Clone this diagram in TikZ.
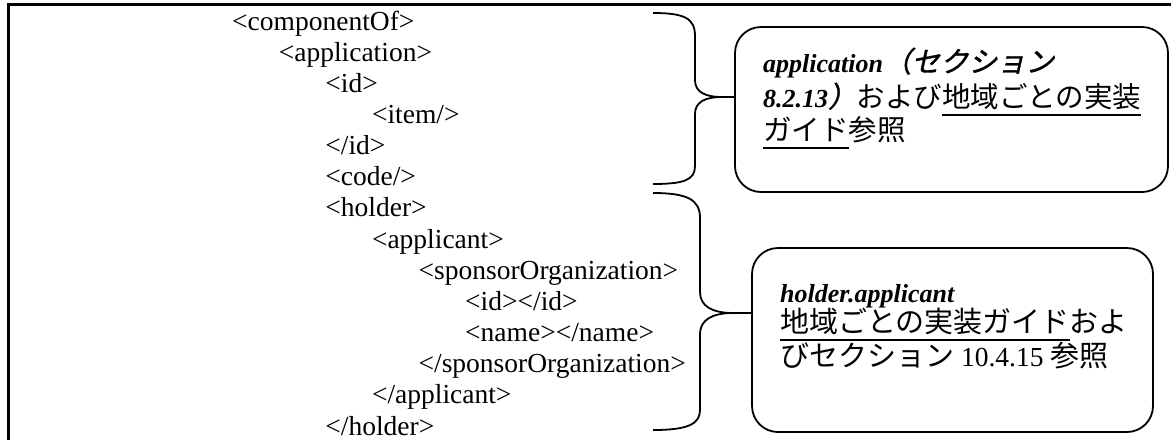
\documentclass[tikz,border=0pt]{standalone}
\usepackage{fontspec}
\setmainfont{Liberation Serif}
\newfontfamily\jp{Noto Sans CJK JP}
\newfontfamily\jpsl[FakeSlant=0.22,FakeBold=1.2]{Noto Sans CJK JP}
% underline drawn as a rule below the text box
\newcommand\uline[1]{\setbox0\hbox{#1}\rlap{\rule[-9pt]{\wd0}{1.8pt}}\box0}
\newcommand\xmlfont{\fontsize{27.5}{31}\selectfont}
\newcommand\notefont{\fontsize{26}{34}\selectfont}
\begin{document}
\begin{tikzpicture}[x=1pt,y=-1pt,
  xml/.style={anchor=base west, inner sep=0pt, font=\xmlfont},
  note/.style={draw, line width=1.8pt, rounded corners=26pt, inner sep=0pt},
  notetext/.style={anchor=base west, inner sep=0pt, font=\notefont},
  brace/.style={line width=1.8pt, line join=round},
  frame/.style={line width=2.8pt}]
\useasboundingbox (0,0) rectangle (1171,440);

% frame edges
\draw[frame] (8.7,440) -- (8.7,4.3) -- (1171,4.3);

% XML listing
\node[xml] (l1)  at (232.0, 30.0)  {<componentOf>};
\node[xml] (l2)  at (278.6, 61.2)  {<application>};
\node[xml] (l3)  at (325.2, 92.3)  {<id>};
\node[xml] (l4)  at (371.8,123.5)  {<item/>};
\node[xml] (l5)  at (325.2,154.6)  {</id>};
\node[xml] (l6)  at (325.2,185.8)  {<code/>};
\node[xml] (l7)  at (325.2,216.9)  {<holder>};
\node[xml] (l8)  at (371.8,248.1)  {<applicant>};
\node[xml] (l9)  at (418.4,279.2)  {<sponsorOrganization>};
\node[xml] (l10) at (465.0,310.4)  {<id></id>};
\node[xml] (l11) at (465.0,341.5)  {<name></name>};
\node[xml] (l12) at (418.4,372.7)  {</sponsorOrganization>};
\node[xml] (l13) at (371.8,403.8)  {</applicant>};
\node[xml] (l14) at (325.2,435.0)  {</holder>};

% note boxes
\node[note, minimum width=433pt, minimum height=165pt] (b1) at (951.5,109.5) {};
\node[note, minimum width=401pt, minimum height=184pt] (b2) at (952.5,340) {};

% note texts
\node[notetext] (a1) at (763,72)  {{\bfseries\itshape application}{\fontsize{28.5}{34}\jpsl （セクション}};
\node[notetext] (a2) at (763,107) {{\bfseries\itshape 8.2.13}{\fontsize{28.5}{34}\jpsl ）}{\fontsize{28.5}{34}\jp および\uline{地域ごとの実装}}};
\node[notetext] (a3) at (763,140) {{\fontsize{28.5}{34}\jp \uline{ガイド}参照}};

\node[notetext] (h1) at (780,302) {{\bfseries\itshape holder.applicant}};
\node[notetext] (h2) at (780,332) {{\fontsize{29}{34}\jp \uline{地域ごとの実装ガイド}およ}};
\node[notetext] (h3) at (780,366) {{\fontsize{29}{34}\jp びセクション}\fontsize{27.5}{34}\selectfont\ 10.4.15 {\fontsize{29}{34}\jp 参照}};

% braces
\coordinate (tip1) at (722,97);
\coordinate (tip2) at (733,313);
\draw[brace] (653,13) .. controls (684,13) and (695,18) .. (695,36)
  -- (695,80) .. controls (695,92) and (705,97) .. (tip1) -- (b1.west |- tip1);
\draw[brace] (tip1) .. controls (705,97) and (695,102) .. (695,114)
  -- (695,166) .. controls (695,180) and (684,184) .. (653,184);
\draw[brace] (653,193) .. controls (688,193) and (700,200) .. (700,218)
  -- (700,292) .. controls (700,306) and (712,313) .. (tip2) -- (b2.west |- tip2);
\draw[brace] (tip2) .. controls (712,313) and (700,320) .. (700,334)
  -- (700,410) .. controls (700,424) and (688,430) .. (653,430);
\end{tikzpicture}
\end{document}
